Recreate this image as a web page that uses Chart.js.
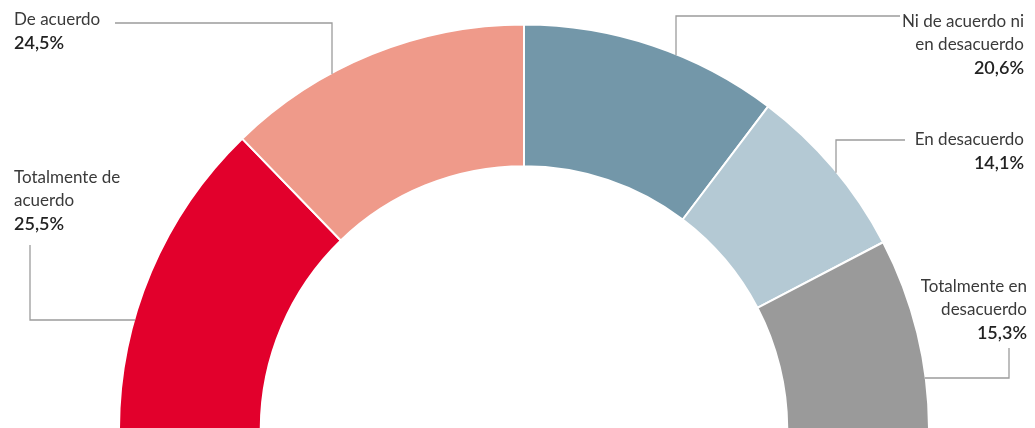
<!DOCTYPE html>
<html>
<head>
<meta charset="utf-8">
<script src="https://cdn.jsdelivr.net/npm/chart.js@4/dist/chart.umd.min.js"></script>
<style>
  html, body { margin: 0; padding: 0; background: #fff; }
  #wrap { width: 1035px; height: 428px; position: relative; }
</style>
</head>
<body>
<div id="wrap"><canvas id="chart"></canvas></div>
<script>
// DATA
const categories = ['Totalmente de acuerdo', 'De acuerdo', 'Ni de acuerdo ni en desacuerdo', 'En desacuerdo', 'Totalmente en desacuerdo'];
const values = [25.5, 24.5, 20.6, 14.1, 15.3];
const labelLines = [['Totalmente de', 'acuerdo'], ['De acuerdo'], ['Ni de acuerdo ni', 'en desacuerdo'], ['En desacuerdo'], ['Totalmente en', 'desacuerdo']];
const colors = ['#e2002c', '#ef9a8a', '#7397a9', '#b4c9d4', '#9a9a9a'];

// label placement (x, first line y, align) and leader path
const labelPos = [
    { x: 14, y: 178, align: 'left' },
    { x: 14, y: 20, align: 'left' },
    { x: 1024, y: 22, align: 'right' },
    { x: 1024, y: 140, align: 'right' },
    { x: 1027, y: 287, align: 'right' }
];
// h: horizontal first then down to ring; v: vertical then horizontal to ring
const leaders = [
    { type: 'v', x: 30, y1: 245, y2: 320 },
    { type: 'h', y: 23, x1: 115, x2: 332 },
    { type: 'h', y: 16, x1: 900, x2: 676 },
    { type: 'h', y: 140, x1: 905, x2: 836 },
    { type: 'v', x: 1009, y1: 348, y2: 378 }
];

const fmt = v => v.toFixed(1).replace('.', ',') + '%';

const labelPlugin = {
    id: 'labels',
    afterDraw(c) {
        let ctx = c.ctx;
        let arc = c.getDatasetMeta(0).data[0];
        let cx = arc.x, cy = arc.y, r = arc.outerRadius - 1;

        ctx.save();
        ctx.strokeStyle = '#9c9c9c';
        ctx.lineWidth = 1.3;
        leaders.forEach(l => {
            ctx.beginPath();
            if (l.type == 'h') {
                let yEnd = cy - Math.sqrt(r * r - (l.x2 - cx) * (l.x2 - cx));
                ctx.moveTo(l.x1, l.y);
                ctx.lineTo(l.x2, l.y);
                ctx.lineTo(l.x2, yEnd);
            } else {
                let dx = Math.sqrt(r * r - (l.y2 - cy) * (l.y2 - cy));
                let xEnd = l.x < cx ? cx - dx : cx + dx;
                ctx.moveTo(l.x, l.y1);
                ctx.lineTo(l.x, l.y2);
                ctx.lineTo(xEnd, l.y2);
            }
            ctx.stroke();
        });

        ctx.textBaseline = 'middle';
        labelLines.forEach((lines, i) => {
            let p = labelPos[i];
            ctx.textAlign = p.align;
            ctx.fillStyle = '#3a3a3a';
            ctx.font = '400 17px Lato';
            lines.forEach((t, k) => ctx.fillText(t, p.x, p.y + k * 23));
            ctx.fillStyle = '#222';
            ctx.font = '600 18px Lato';
            ctx.fillText(fmt(values[i]), p.x, p.y + lines.length * 23);
        });
        ctx.restore();
    }
};

new Chart(document.getElementById('chart'), {
    type: 'doughnut',
    data: {
        labels: categories,
        datasets: [{
            data: values,
            backgroundColor: colors,
            borderColor: '#fff',
            borderWidth: 2
        }]
    },
    options: {
        responsive: true,
        maintainAspectRatio: false,
        animation: false,
        rotation: -90,
        circumference: 180,
        cutout: '65%',
        radius: 405,
        layout: { padding: { top: 26, left: 13 } },
        plugins: {
            legend: { display: false },
            tooltip: { enabled: false }
        }
    },
    plugins: [labelPlugin]
});
</script>
</body>
</html>
